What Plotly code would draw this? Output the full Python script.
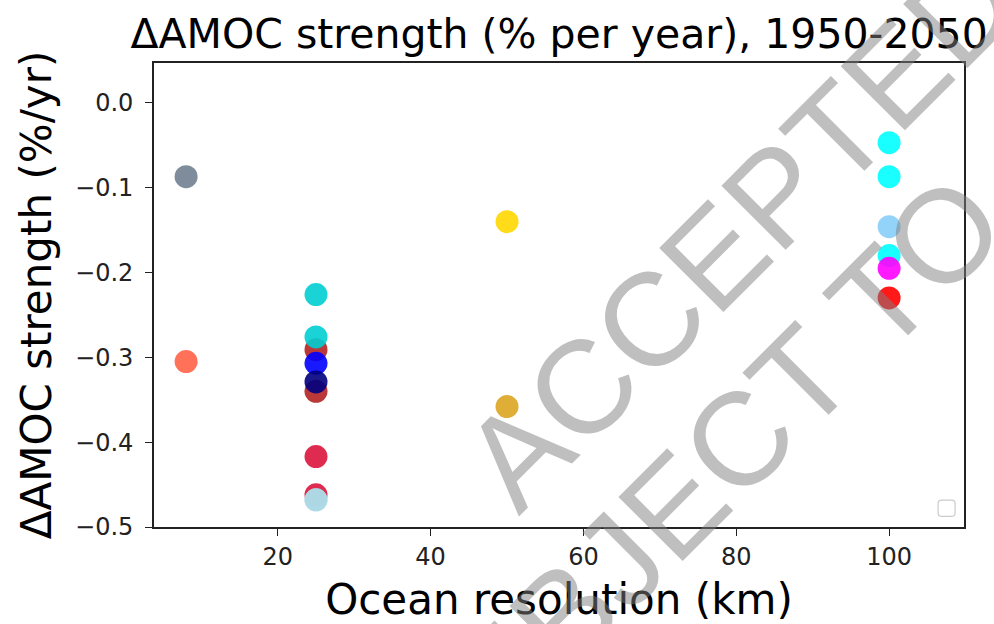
import plotly.graph_objects as go

# Ocean resolution (km) per model
resolution_km = [8, 8,
                 25, 25, 25, 25, 25, 25, 25, 25, 25, 25,
                 50, 50,
                 100, 100, 100, 100, 100, 100]
# AMOC trend (%/yr)
amoc_trend = [-0.087, -0.305,
              -0.291, -0.340, -0.417, -0.462, -0.226, -0.276, -0.307, -0.329, -0.468, -0.468,
              -0.140, -0.358,
              -0.230, -0.047, -0.087, -0.146, -0.180, -0.195]
point_colors = ["slategray", "tomato",
                "firebrick", "firebrick", "crimson", "crimson", "darkturquoise", "darkturquoise",
                "blue", "navy", "lightblue", "lightblue",
                "gold", "goldenrod",
                "red", "cyan", "cyan", "lightskyblue", "cyan", "magenta"]

x_ticks = [20, 40, 60, 80, 100]
y_ticks = [0.0, -0.1, -0.2, -0.3, -0.4, -0.5]

fig = go.Figure()
fig.add_trace(go.Scatter(
    x=resolution_km, y=amoc_trend, mode="markers",
    marker=dict(size=23, color=point_colors, opacity=0.9, line=dict(width=0)),
    showlegend=False, hoverinfo="x+y"))

axis_common = dict(showline=True, linecolor="#222", linewidth=1.6, mirror=True,
                   showgrid=False, zeroline=False, ticks="outside", ticklen=7,
                   tickwidth=1.4, tickcolor="#222", automargin=False,
                   tickfont=dict(family="DejaVu Sans", size=24, color="#222"))

fig.update_layout(
    width=994, height=624,
    margin=dict(l=154, r=30, t=63, b=97),
    paper_bgcolor="white", plot_bgcolor="white",
    title=dict(text="ΔAMOC strength (% per year), 1950-2050",
               font=dict(family="DejaVu Sans", size=41, color="black"),
               x=0.5625, xanchor="center", xref="container",
               y=1 - 34 / 624, yanchor="middle", yref="container",
               automargin=False),
    xaxis=dict(range=[3.8, 109.8], tickvals=x_ticks,
               title=dict(text="Ocean resolution (km)", standoff=15,
                          font=dict(family="DejaVu Sans", size=42, color="black")),
               **axis_common),
    yaxis=dict(range=[-0.5, 0.047], tickvals=y_ticks, tickformat=".1f",
               ticklabelstandoff=7,
               title=dict(text="ΔAMOC strength (%/yr)", standoff=10,
                          font=dict(family="DejaVu Sans", size=42, color="black")),
               **axis_common),
)

# empty legend frame (bottom right)
x0, x1, y0, y1 = 0.968, 0.989, 0.023, 0.058
rx, ry = 0.004, 0.007
path = (f"M {x0+rx},{y0} L {x1-rx},{y0} Q {x1},{y0} {x1},{y0+ry} "
        f"L {x1},{y1-ry} Q {x1},{y1} {x1-rx},{y1} L {x0+rx},{y1} "
        f"Q {x0},{y1} {x0},{y1-ry} L {x0},{y0+ry} Q {x0},{y0} {x0+rx},{y0} Z")
fig.add_shape(type="path", path=path, xref="paper", yref="paper",
              line=dict(color="#cccccc", width=1.2), fillcolor="white")

# watermark
wm_font = dict(family="Liberation Sans", size=132, color="rgba(128,128,128,0.5)")
fig.add_annotation(text="ACCEPTED", xref="paper", yref="paper", x=0.724, y=0.640,
                   xanchor="center", yanchor="middle", textangle=-45,
                   showarrow=False, font=wm_font)
fig.add_annotation(text="SUBJECT TO", xref="paper", yref="paper", x=0.664, y=0.085,
                   xanchor="center", yanchor="middle", textangle=-45,
                   showarrow=False, font=wm_font)

fig.write_html("out.html")
